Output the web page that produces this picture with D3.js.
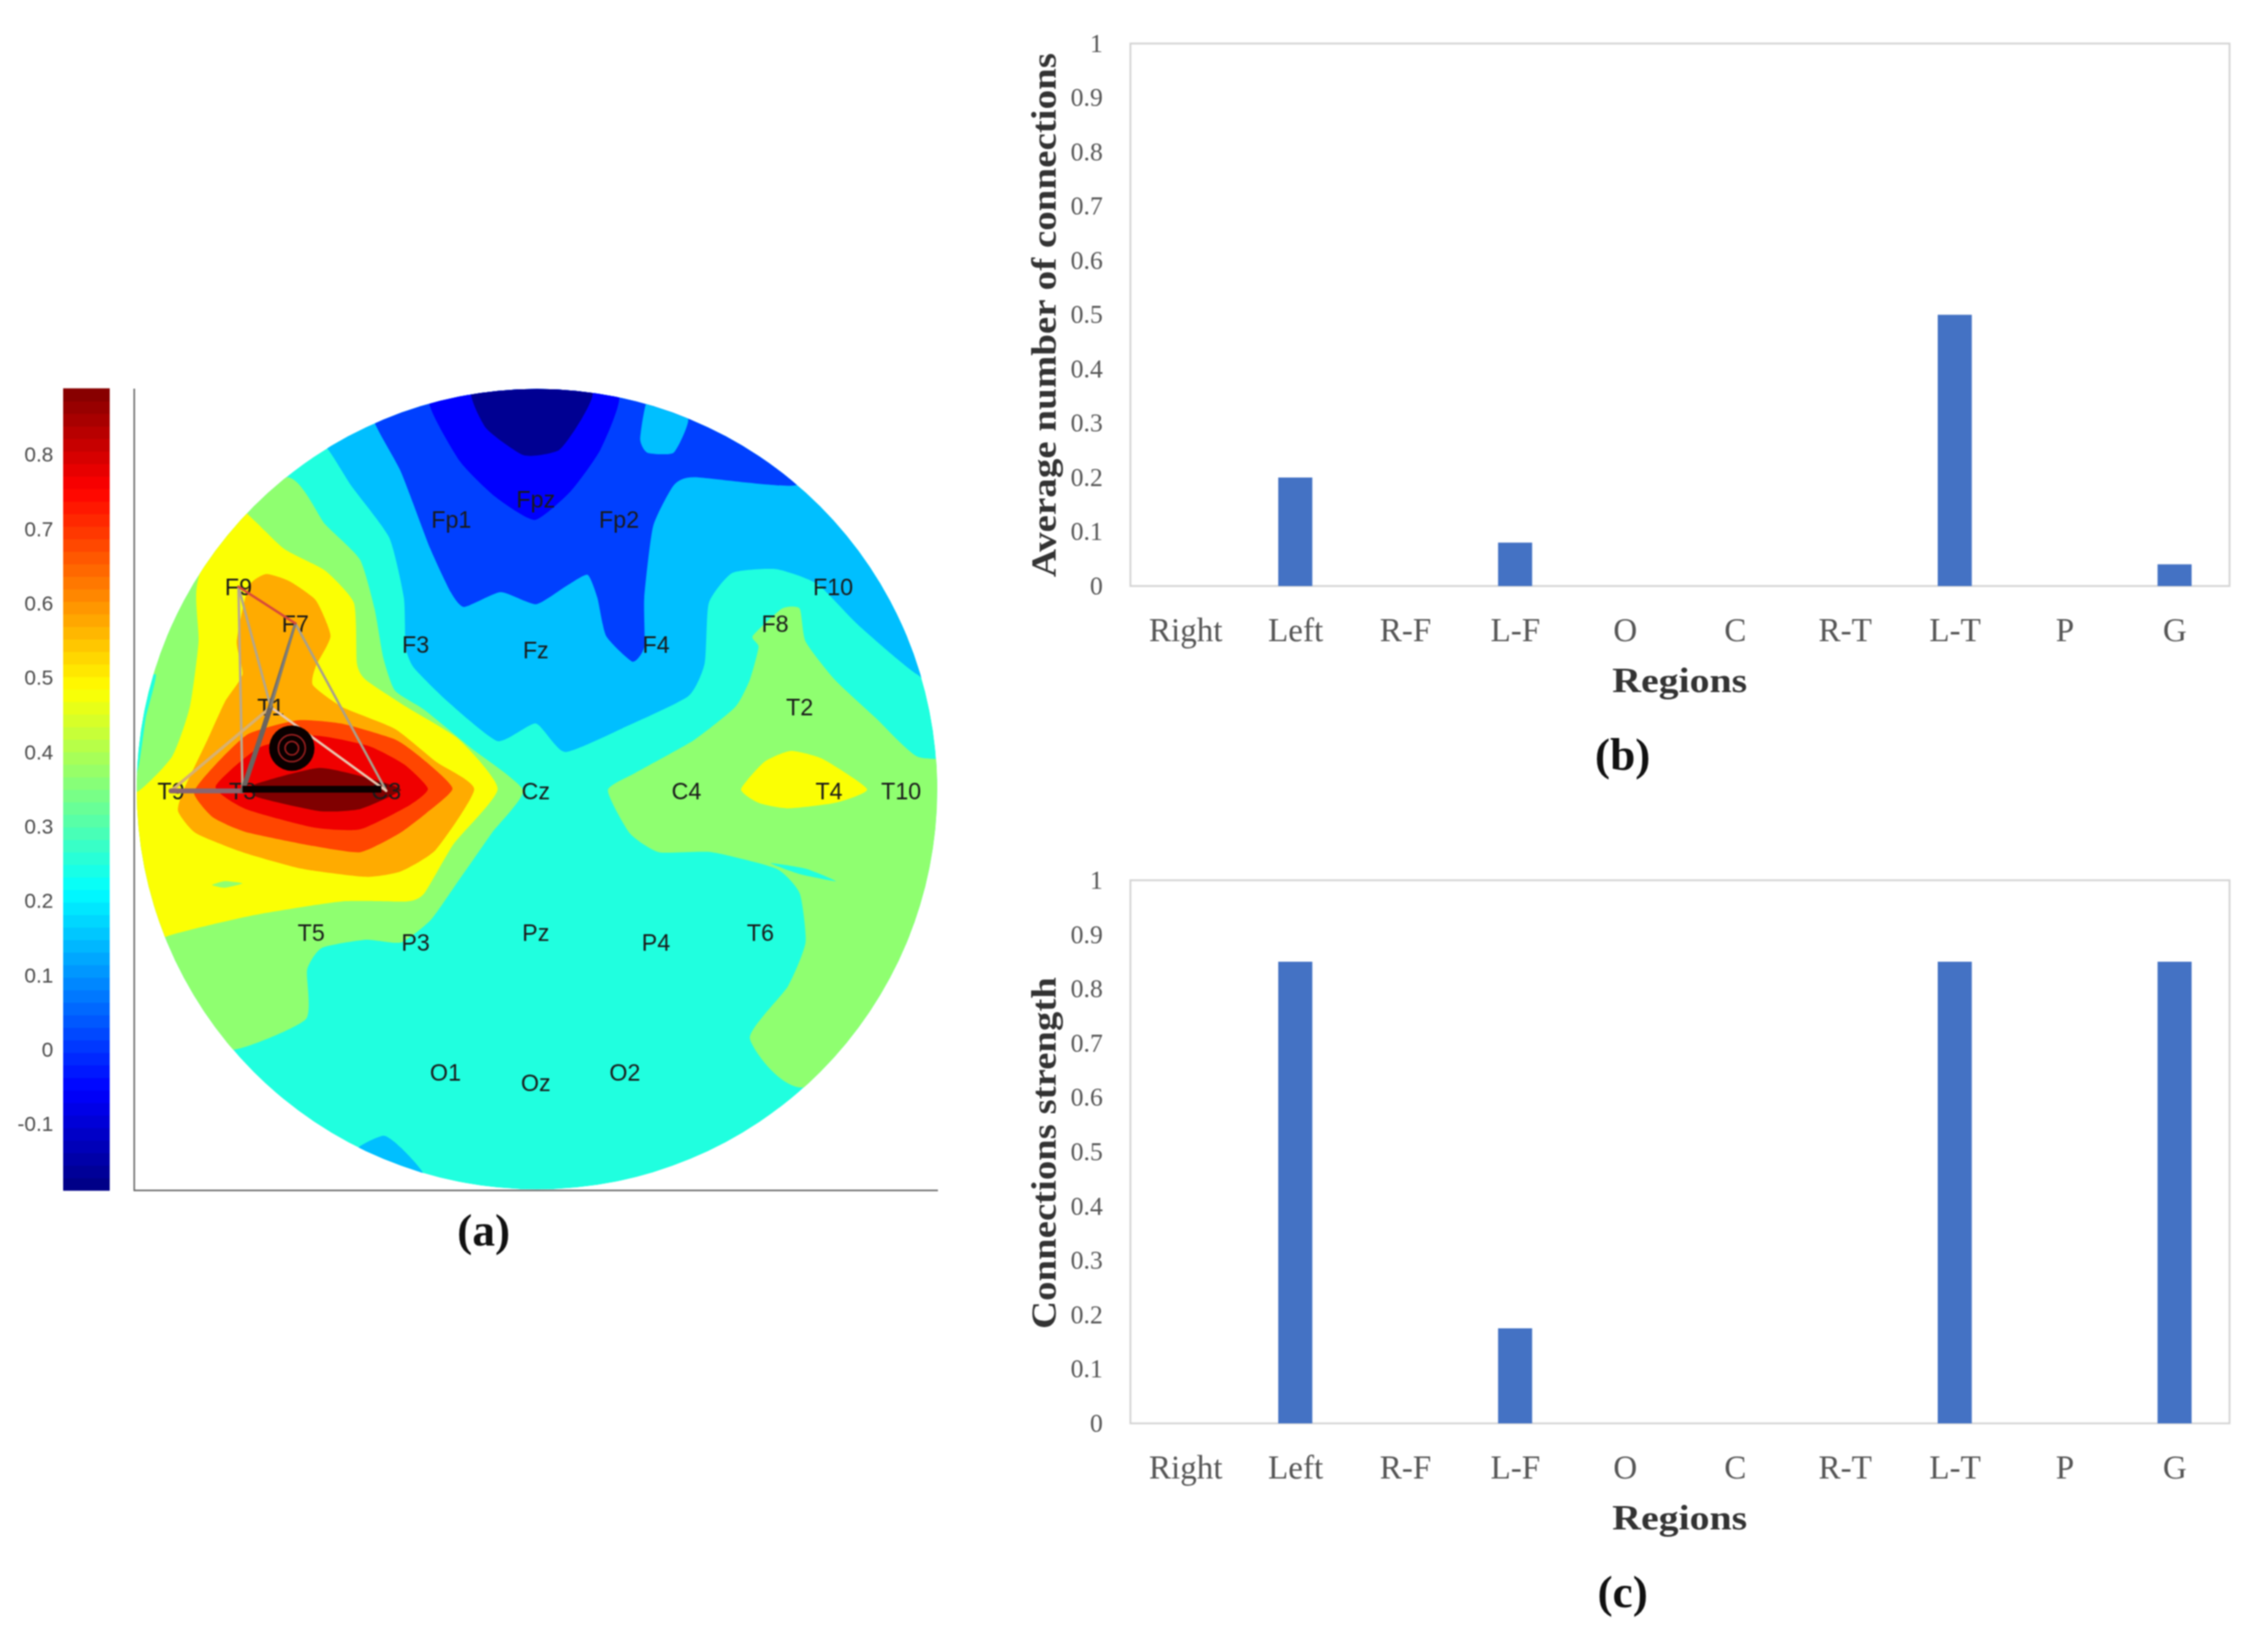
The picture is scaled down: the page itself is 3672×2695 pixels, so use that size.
<!DOCTYPE html>
<html>
<head>
<meta charset="utf-8">
<script src="https://cdn.jsdelivr.net/npm/d3@7"></script>
<style>
  body { margin: 0; background: #fff; }
  svg { display: block; filter: blur(1.1px); }
</style>
</head>
<body>
<div id="figure"></div>
<script>
const figWidth = 3672;
const figHeight = 2695;

// ---- bar chart data ----
const regions = ['Right', 'Left', 'R-F', 'L-F', 'O', 'C', 'R-T', 'L-T', 'P', 'G'];
const avgConnections = [0, 0.2, 0, 0.08, 0, 0, 0, 0.5, 0, 0.04];
const connStrength = [0, 0.85, 0, 0.175, 0, 0, 0, 0.85, 0, 0.85];
const barTicks = [0, 0.1, 0.2, 0.3, 0.4, 0.5, 0.6, 0.7, 0.8, 0.9, 1];

// ---- colour bar data ----
const colorbarTicks = [-0.1, 0, 0.1, 0.2, 0.3, 0.4, 0.5, 0.6, 0.7, 0.8];
const colorbarRange = [-0.189, 0.889];

// ---- scalp map in map units (0-1568 across and down) ----
const lightBlueBand = [[475,148],[515,215],[580,310],[605,420],[608,510],[622,548],[680,610],[765,682],[830,650],[880,702],[985,655],[1090,600],[1118,540],[1125,430],[1165,375],[1240,368],[1310,395],[1380,470],[1480,560],[1620,640],[1650,-60],[300,-60],[420,90]];
const blueBand = [[555,100],[600,190],[650,330],[685,410],[708,437],[770,410],[830,432],[880,400],[918,378],[935,420],[950,490],[995,537],[1015,510],[1015,420],[1030,290],[1065,215],[1100,200],[1270,215],[1400,160],[1300,-60],[500,-60]];
const topLightBlue = [[1020,60],[1008,130],[1020,155],[1065,155],[1090,95],[1060,40]];
const bottomLightBlue = [[520,1432],[570,1403],[600,1425],[640,1476],[640,1560],[480,1540]];
const deepBlueBand = [[648,62],[700,170],[760,235],[828,278],[890,225],[940,150],[972,52],[900,-20],[700,-20]];
const navyBand = [[720,38],[745,110],[810,160],[870,150],[910,90],[925,40],[820,10]];
const greenLeft = [[405,200],[470,285],[530,350],[555,440],[570,530],[590,590],[640,625],[720,695],[808,772],[755,850],[690,950],[650,1010],[600,1050],[540,1045],[465,1060],[440,1100],[438,1190],[320,1245],[150,1250],[60,800],[200,300]];
const greenRight = [[953,772],[1000,740],[1100,680],[1170,620],[1195,570],[1210,510],[1200,490],[1250,440],[1280,440],[1290,500],[1340,570],[1410,640],[1480,710],[1600,750],[1620,1200],[1285,1315],[1195,1225],[1260,1130],[1290,1050],[1280,960],[1240,915],[1130,885],[1040,885],[990,850]];
const rightSliver = [[1230,905],[1290,915],[1342,938],[1280,925]];
const leftSliver = [[110,800],[150,740],[165,640],[182,560],[130,600]];
const yellowLeft = [[300,240],[400,330],[470,370],[520,430],[525,540],[540,570],[610,620],[700,680],[765,770],[690,870],[640,960],[610,975],[500,975],[350,1000],[198,1040],[100,1100],[70,790],[150,775],[210,710],[240,620],[255,500],[252,400]];
const yellowFleck = [[278,945],[300,938],[330,942],[300,950]];
const yellowRight = [[1180,770],[1220,720],[1265,700],[1320,715],[1395,770],[1340,795],[1260,805],[1210,795]];
const orangeBand = [[320,500],[340,400],[370,377],[410,390],[455,425],[480,490],[455,545],[450,580],[500,620],[590,660],[660,720],[725,770],[660,880],[600,920],[540,930],[430,915],[330,885],[250,850],[220,810],[230,770],[270,680],[300,610],[330,560]];
const orangeRedBand = [[424,644],[498,650],[592,680],[643,720],[688,769],[643,814],[597,851],[531,885],[452,874],[335,848],[279,821],[247,776],[284,725],[340,669]];
const redBand = [[452,672],[545,691],[606,725],[646,769],[615,799],[531,843],[452,840],[335,806],[284,765],[358,694]];
const darkRedBand = [[461,731],[559,754],[600,772],[531,806],[461,810],[354,784],[349,762]];

// value of each contour level, painted in this order
const scalpBands = [
  { level: 0.148, outlines: [lightBlueBand, bottomLightBlue] },
  { level: 0.013, outlines: [blueBand] },
  { level: 0.148, outlines: [topLightBlue] },
  { level: -0.054, outlines: [deepBlueBand] },
  { level: -0.17, outlines: [navyBand] },
  { level: 0.366, outlines: [greenLeft, greenRight] },
  { level: 0.249, outlines: [rightSliver, leftSliver] },
  { level: 0.48, outlines: [yellowLeft, yellowRight] },
  { level: 0.366, outlines: [yellowFleck] },
  { level: 0.574, outlines: [orangeBand] },
  { level: 0.68, outlines: [orangeRedBand] },
  { level: 0.77, outlines: [redBand] },
  { level: 0.889, outlines: [darkRedBand] }
];
const baseLevel = 0.249;

const electrodeNames = ['Fp1','Fpz','Fp2','F9','F7','F3','Fz','F4','F8','F10','T1','T2','T9','T3','C3','Cz','C4','T4','T10','T5','P3','Pz','P4','T6','O1','Oz','O2'];
const electrodeX = [686,830,972,323,420,625,830,1035,1238,1337,378,1280,208,330,575,830,1087,1330,1453,447,625,830,1035,1213,676,830,982];
const electrodeY = [277,240,277,400,467,505,515,505,467,400,620,620,773,773,773,773,773,773,773,1032,1050,1032,1050,1032,1287,1306,1287];

// network edges: from, to, strength
const edgeFrom = ['F9','F9','F7','T1','T1','T9','T3','T3','F7','T1','F9'];
const edgeTo = ['T3','T1','C3','C3','T9','T3','F7','T1','T1','F7','F7'];
const edgeGrey = ['#b9a98f','#b3a68c','#a9a08c','#e8c8b0','#d8b070','#8a6670','#6e6a66','#6a6460','#70706c','#80807c','#d84a3a'];
const edgeWeight = [4,4,4,4,5,8,4,8,4,3,4];

const jetStops = [0, 0.125, 0.375, 0.625, 0.875, 1];
const jetColors = ['#000080', '#0000ff', '#00ffff', '#ffff00', '#ff0000', '#800000'];

const svg = d3.select('#figure').append('svg')
  .attr('width', figWidth)
  .attr('height', figHeight);

const jet = d3.scaleLinear().domain(jetStops).range(jetColors);
const valueToJet = d3.scaleLinear().domain(colorbarRange).range([0, 1]);
const colorOf = v => jet(valueToJet(v));

// ---- panel (a): colour bar ----
const mapFont = '"Liberation Sans", Arial, sans-serif';
const barScale = d3.scaleLinear().domain(colorbarRange).range([1942, 634]);
const steps = d3.range(64).map(i => colorbarRange[0] + (i + 0.5) * (colorbarRange[1] - colorbarRange[0]) / 64);
const stepH = (barScale.range()[0] - barScale.range()[1]) / 64;

svg.append('g').selectAll('rect')
  .data(steps)
  .enter()
  .append('rect')
  .attr('x', 103)
  .attr('width', 76)
  .attr('y', d => barScale(d) - stepH / 2 - 0.5)
  .attr('height', stepH + 1)
  .attr('fill', d => colorOf(d));

const barAxis = svg.append('g')
  .attr('transform', 'translate(103,0)')
  .call(d3.axisLeft(barScale).tickValues(colorbarTicks).tickSize(0).tickPadding(16).tickFormat(d => String(d)));
barAxis.select('.domain').remove();
barAxis.selectAll('text')
  .attr('font-family', mapFont)
  .attr('font-size', 34)
  .attr('fill', '#4a4a4a');

// ---- panel (a): scalp map ----
const headX = d3.scaleLinear().domain([0, 1568]).range([80, 1580]);
const headY = d3.scaleLinear().domain([0, 1568]).range([600, 2000]);
const headR = 653;
const headCx = headX(832);
const headCy = headY(770);

svg.append('defs').append('clipPath')
  .attr('id', 'head-clip')
  .append('circle')
  .attr('cx', headCx)
  .attr('cy', headCy)
  .attr('r', headR);

const bandLine = d3.line()
  .x(d => headX(d[0]))
  .y(d => headY(d[1]))
  .curve(d3.curveCardinalClosed.tension(0.45));

const head = svg.append('g').attr('clip-path', 'url(#head-clip)');
head.append('circle')
  .attr('cx', headCx)
  .attr('cy', headCy)
  .attr('r', headR)
  .attr('fill', colorOf(baseLevel));

scalpBands.forEach(band => {
  head.append('g').selectAll('path')
    .data(band.outlines)
    .enter()
    .append('path')
    .attr('d', bandLine)
    .attr('fill', colorOf(band.level));
});

// map frame
svg.append('path')
  .attr('d', d3.line()([[219, 634], [219, 1942], [1530, 1942]]))
  .attr('fill', 'none')
  .attr('stroke', '#666')
  .attr('stroke-width', 2.5);

// electrode labels
const electrodeIndex = new Map(electrodeNames.map((n, i) => [n, i]));
const net = svg.append('g');
electrodeNames.forEach((name, i) => {
  net.append('text')
    .attr('x', headX(electrodeX[i]))
    .attr('y', headY(electrodeY[i]))
    .attr('dy', '0.36em')
    .attr('text-anchor', 'middle')
    .attr('font-family', mapFont)
    .attr('font-size', 38)
    .attr('fill', '#1a1a1a')
    .text(name);
});

// network edges on top of the labels
edgeFrom.forEach((from, i) => {
  const a = electrodeIndex.get(from);
  const b = electrodeIndex.get(edgeTo[i]);
  net.append('line')
    .attr('x1', headX(electrodeX[a]))
    .attr('y1', headY(electrodeY[a]))
    .attr('x2', headX(electrodeX[b]))
    .attr('y2', headY(electrodeY[b]))
    .attr('stroke', edgeGrey[i])
    .attr('stroke-width', edgeWeight[i])
    .attr('stroke-linecap', 'round');
});
net.append('line')
  .attr('x1', headX(electrodeX[electrodeIndex.get('T3')]))
  .attr('y1', headY(770))
  .attr('x2', headX(electrodeX[electrodeIndex.get('C3')]) - 8)
  .attr('y2', headY(770))
  .attr('stroke', '#0a0000')
  .attr('stroke-width', 11);

// the black node with its rings
const nodeX = headX(414);
const nodeY = headY(695);
net.append('circle').attr('cx', nodeX).attr('cy', nodeY).attr('r', 37).attr('fill', '#0a0000');
net.selectAll('.ring')
  .data([22, 11])
  .enter()
  .append('circle')
  .attr('class', 'ring')
  .attr('cx', nodeX)
  .attr('cy', nodeY)
  .attr('r', d => d)
  .attr('fill', 'none')
  .attr('stroke', '#a02020')
  .attr('stroke-width', 2.5);

// ---- panels (b) and (c) ----
const serif = '"Liberation Serif", "Times New Roman", serif';

function drawBars(values, title, top, bottom, yTitle, titleLength) {
  const left = 1844;
  const right = 3637;
  const x = d3.scaleBand().domain(regions).range([left, right]).paddingInner(0.69).paddingOuter(0.345);
  const xLabel = d3.scalePoint().domain(regions).range([left, right]).padding(0.5);
  const y = d3.scaleLinear().domain([0, 1]).range([bottom, top]);
  const g = svg.append('g');

  g.append('rect')
    .attr('x', left)
    .attr('y', top)
    .attr('width', right - left)
    .attr('height', bottom - top)
    .attr('fill', 'none')
    .attr('stroke', '#d4d4d4')
    .attr('stroke-width', 3);

  g.selectAll('.bar')
    .data(values)
    .enter()
    .append('rect')
    .attr('class', 'bar')
    .attr('x', (d, i) => x(regions[i]))
    .attr('width', x.bandwidth())
    .attr('y', d => y(d))
    .attr('height', d => bottom - y(d))
    .attr('fill', '#4472c4');

  const yAxis = g.append('g')
    .attr('transform', `translate(${left},0)`)
    .call(d3.axisLeft(y).tickValues(barTicks).tickSize(0).tickPadding(45).tickFormat(d => String(d)));
  yAxis.select('.domain').remove();
  yAxis.selectAll('text')
    .attr('font-family', serif)
    .attr('font-size', 42)
    .attr('fill', '#555');

  const xAxis = g.append('g')
    .attr('transform', `translate(0,${bottom})`)
    .call(d3.axisBottom(xLabel).tickSize(0).tickPadding(52));
  xAxis.select('.domain').remove();
  xAxis.selectAll('text')
    .attr('font-family', serif)
    .attr('font-size', 54)
    .attr('fill', '#555');

  g.append('text')
    .attr('x', 2740)
    .attr('y', bottom + 173)
    .attr('text-anchor', 'middle')
    .attr('font-family', serif)
    .attr('font-weight', 'bold')
    .attr('font-size', 58)
    .attr('textLength', 220)
    .attr('lengthAdjust', 'spacingAndGlyphs')
    .attr('fill', '#333')
    .text('Regions');

  g.append('text')
    .attr('transform', `translate(1722,${yTitle}) rotate(-90)`)
    .attr('text-anchor', 'middle')
    .attr('font-family', serif)
    .attr('font-weight', 'bold')
    .attr('font-size', 58)
    .attr('textLength', titleLength)
    .attr('lengthAdjust', 'spacingAndGlyphs')
    .attr('fill', '#333')
    .text(title);
}

drawBars(avgConnections, 'Average number of connections', 71, 956, 514, 855);
drawBars(connStrength, 'Connections strength', 1436, 2322, 1881, 574);

// panel letters
const panelLetters = ['(a)', '(b)', '(c)'];
const panelX = [789, 2647, 2647];
const panelY = [2032, 1256, 2622];
svg.append('g').selectAll('text')
  .data(panelLetters)
  .enter()
  .append('text')
  .attr('x', (d, i) => panelX[i])
  .attr('y', (d, i) => panelY[i])
  .attr('text-anchor', 'middle')
  .attr('font-family', serif)
  .attr('font-weight', 'bold')
  .attr('font-size', 74)
  .attr('fill', '#111')
  .text(d => d);
</script>
</body>
</html>
